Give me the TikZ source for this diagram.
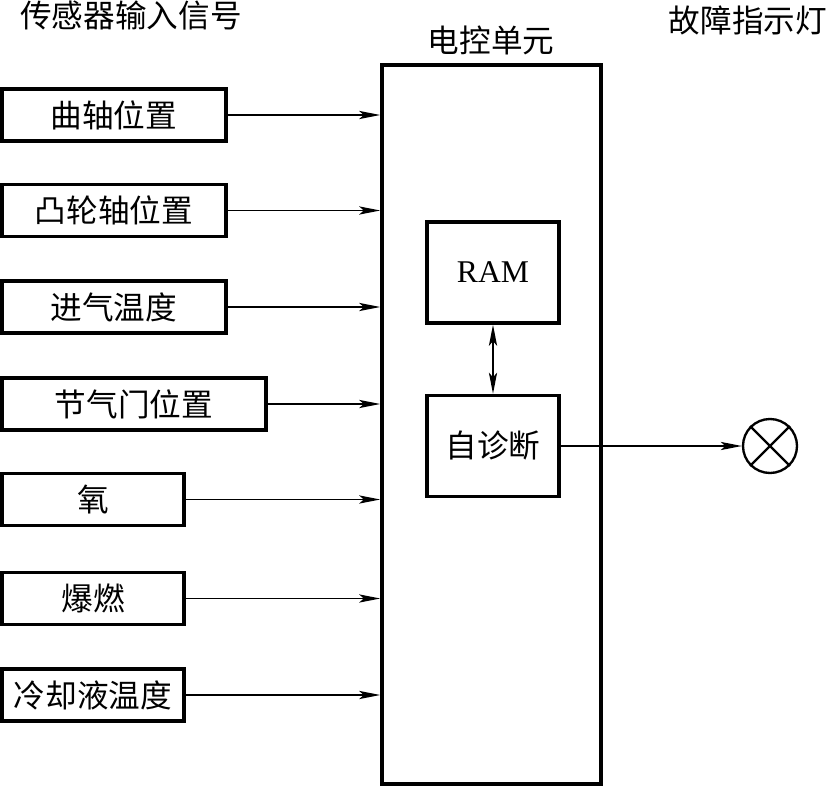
\documentclass[tikz,border=0pt]{standalone}
\usepackage{fontspec}
\setmainfont{Liberation Serif}
\newfontfamily\cjk{Noto Sans CJK SC}
\usetikzlibrary{arrows.meta}
\tikzset{
  box/.style={draw, line width=3pt, inner sep=0pt, font=\cjk\fontsize{27}{32}\selectfont},
  sig/.style={line width=1.2pt, -{Stealth[length=18pt,width=7pt,inset=4pt]}},
  lbl/.style={inner sep=0pt, font=\cjk\fontsize{27}{32}\selectfont}
}

\begin{document}
\begin{tikzpicture}[x=0.03cm, y=-0.03cm]
			%%%%% START %%%%%
			\useasboundingbox (0, 0) rectangle (826, 787);
			
			\node[lbl] (tin) at (131, 15) {传感器输入信号};
			\node[lbl] (tecu) at (491, 40) {电控单元};
			\node[lbl] (tlamp) at (748, 20) {故障指示灯};
			
			\node[box, minimum width=6.57cm, minimum height=21.57cm] (ecu) at (491.5, 424.5) {};
			\node[box, minimum width=3.96cm, minimum height=3.03cm, font=\fontsize{27}{32}\selectfont] (ram) at (493, 272.5) {RAM};
			\node[box, minimum width=3.96cm, minimum height=3.03cm] (diag) at (493, 446) {自诊断};
			
			\node[box, minimum width=6.72cm, minimum height=1.56cm] (s1) at (114, 115) {曲轴位置};
			\node[box, minimum width=6.72cm, minimum height=1.56cm] (s2) at (114, 210.5) {凸轮轴位置};
			\node[box, minimum width=6.72cm, minimum height=1.56cm] (s3) at (114, 307) {进气温度};
			\node[box, minimum width=7.92cm, minimum height=1.56cm] (s4) at (134, 404) {节气门位置};
			\node[box, minimum width=5.46cm, minimum height=1.56cm] (s5) at (93, 499.5) {氧};
			\node[box, minimum width=5.46cm, minimum height=1.56cm] (s6) at (93, 598.5) {爆燃};
			\node[box, minimum width=5.46cm, minimum height=1.56cm] (s7) at (93, 695) {冷却液温度};
			
			\foreach \s in {s1,s2,s3,s4,s5,s6,s7}
				\draw[sig] (\s.east) -- (\s.east -| ecu.west);
			
			\draw[sig, {Stealth[length=18pt,width=7pt,inset=4pt]}-{Stealth[length=18pt,width=7pt,inset=4pt]}] (ram.south) -- (diag.north);
			
			\node[draw, circle, line width=2pt, minimum size=1.62cm, inner sep=0pt] (lamp) at (770, 446) {};
			\draw[line width=2pt] (lamp.north west) -- (lamp.south east);
			\draw[line width=2pt] (lamp.north east) -- (lamp.south west);
			\draw[sig] (diag.east) -- (lamp.west);
			%%%%% END %%%%%
\end{tikzpicture}
\end{document}
